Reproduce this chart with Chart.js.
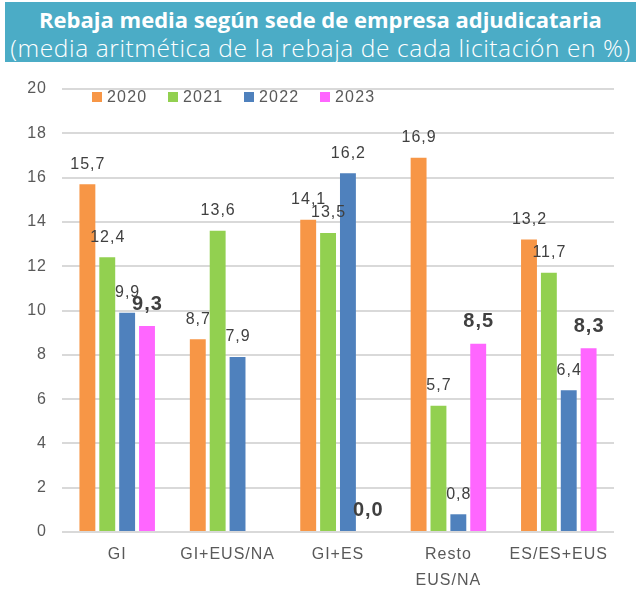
<!DOCTYPE html>
<html>
<head>
<meta charset="utf-8">
<script src="https://cdn.jsdelivr.net/npm/chart.js@4"></script>
<style>
  html, body { margin: 0; padding: 0; background: #fff; }
  body { width: 641px; height: 595px; position: relative; overflow: hidden; }
  #banner {
    position: absolute; left: 5px; top: 2px; width: 631px; height: 60px;
    background: #4BACC6; color: #fff; text-align: center;
    font-family: "Open Sans", "Noto Sans", sans-serif;
  }
  #banner .l1 { position: absolute; left: 0; right: 0; top: 2px; font-size: 22px; font-weight: 700; line-height: 30px; }
  #banner .l2 { position: absolute; left: 0; right: 0; top: 31px; font-size: 24.5px; font-weight: 300; line-height: 30px; letter-spacing: 0.6px; white-space: nowrap; }
  #wrap { position: absolute; left: 0; top: 62px; width: 641px; height: 533px; }
</style>
</head>
<body>
<div id="banner">
  <div class="l1">Rebaja media según sede de empresa adjudicataria</div>
  <div class="l2">(media aritmética de la rebaja de cada licitación en %)</div>
</div>
<div id="wrap"><canvas id="c" width="641" height="533"></canvas></div>
<script>
const categories = [["GI"], ["GI+EUS/NA"], ["GI+ES"], ["Resto", "EUS/NA"], ["ES/ES+EUS"]];
const seriesNames = ["2020", "2021", "2022", "2023"];
const values2020 = [15.7, 8.7, 14.1, 16.9, 13.2];
const values2021 = [12.4, 13.6, 13.5, 5.7, 11.7];
const values2022 = [9.9, 7.9, 16.2, 0.8, 6.4];
const values2023 = [9.3, null, 0.0, 8.5, 8.3];
const yTicks = [0, 2, 4, 6, 8, 10, 12, 14, 16, 18, 20];

const colors = ["#F79646", "#92D050", "#4F81BD", "#FF66FF"];
const FONT = "'Liberation Sans', Arial, sans-serif";

const fmt = v => v.toFixed(1).replace('.', ',');

const spacingPlugin = {
  id: 'spacing',
  beforeDraw(chart) { chart.ctx.letterSpacing = '1px'; }
};

const labelPlugin = {
  id: 'valueLabels',
  afterDatasetsDraw(chart) {
    const ctx = chart.ctx;
    ctx.save();
    ctx.letterSpacing = '1px';
    ctx.textAlign = 'center';
    ctx.textBaseline = 'middle';
    chart.data.datasets.forEach((ds, di) => {
      const meta = chart.getDatasetMeta(di);
      const bold = di === 3;
      ctx.font = (bold ? 'bold 20px ' : '16px ') + FONT;
      ctx.fillStyle = '#404040';
      meta.data.forEach((bar, i) => {
        const v = ds.data[i];
        if (v === null || v === undefined) return;
        ctx.fillText(fmt(v), bar.x + 0.5, bar.y - (bold ? 22 : 20));
      });
    });
    ctx.restore();
  }
};

const legendPlugin = {
  id: 'innerLegend',
  afterDraw(chart) {
    const ctx = chart.ctx;
    ctx.save();
    ctx.letterSpacing = '1.2px';
    ctx.font = '16px ' + FONT;
    ctx.textBaseline = 'middle';
    ctx.textAlign = 'left';
    let x = 92;
    const y = 97 - 62;
    chart.data.datasets.forEach((ds) => {
      ctx.fillStyle = ds.backgroundColor;
      ctx.fillRect(x, y - 5, 10, 10);
      ctx.fillStyle = '#595959';
      ctx.fillText(ds.label, x + 15, y + 1);
      x = x + 76;
    });
    ctx.restore();
  }
};

const datasets = [values2020, values2021, values2022, values2023].map((d, i) => ({
  label: seriesNames[i],
  data: d,
  backgroundColor: colors[i],
  borderWidth: 0,
  barPercentage: 0.8,
  categoryPercentage: 0.72
}));

new Chart(document.getElementById('c'), {
  type: 'bar',
  data: { labels: categories, datasets },
  options: {
    responsive: false,
    animation: false,
    layout: { padding: { top: 27, right: 27, left: 0, bottom: 0 } },
    plugins: { legend: { display: false }, tooltip: { enabled: false }, title: { display: false } },
    scales: {
      x: {
        grid: { display: false, drawTicks: false },
        border: { display: false },
        ticks: { color: '#595959', font: { family: FONT, size: 16, lineHeight: 1.6 }, padding: 10, maxRotation: 0, autoSkip: false },
        afterFit(s) { s.height = 63; }
      },
      y: {
        min: 0, max: 20,
        afterBuildTicks(s) { s.ticks = yTicks.map(v => ({ value: v })); },
        grid: { color: '#D9D9D9', lineWidth: 2, drawTicks: false },
        border: { display: false },
        ticks: { color: '#595959', font: { family: FONT, size: 16 }, padding: 15 },
        afterFit(s) { s.width = 62; }
      }
    }
  },
  plugins: [spacingPlugin, labelPlugin, legendPlugin]
});
</script>
</body>
</html>
